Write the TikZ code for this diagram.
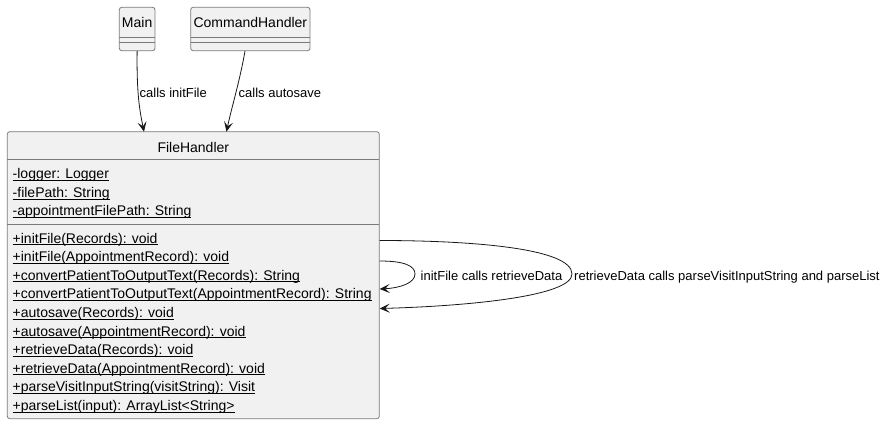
\documentclass[tikz,border=0pt]{standalone}
\usepackage{fontspec}
\setmainfont{Liberation Sans}
\usetikzlibrary{arrows.meta}
\definecolor{umlfill}{HTML}{F1F1F1}
\definecolor{umlborder}{HTML}{7A7A7A}
\definecolor{umlline}{HTML}{181818}
\newcommand{\staticmember}[1]{\setbox0=\hbox{#1}\rlap{\rule[-1.8pt]{\wd0}{0.6pt}}\box0}

\begin{document}
\begin{tikzpicture}[x=1pt,y=-1pt,
  classbox/.style={draw=umlborder, fill=umlfill, line width=0.8pt, rounded corners=2.5pt, inner sep=0pt},
  sepline/.style={draw=umlborder, line width=0.8pt},
  classname/.style={anchor=base, inner sep=0pt, font=\fontsize{14}{16}\selectfont},
  member/.style={anchor=base west, inner sep=0pt, font=\fontsize{14}{16}\selectfont},
  calllabel/.style={anchor=base west, inner sep=0pt, font=\fontsize{13}{15}\selectfont},
  callarrow/.style={draw=umlline, line width=0.8pt, -{Stealth[length=10pt,width=9pt,inset=4.5pt]}}]

\useasboundingbox (0,0) rectangle (891,423);

\node[classbox, minimum width=35.7pt, minimum height=43.4pt] (main) at (137.15,29) {};
\draw[sepline] (119.3,37.7) -- (155,37.7);
\draw[sepline] (119.3,42.7) -- (155,42.7);
\node[classname] (mainname) at (137.15,27.5) {Main};

\node[classbox, minimum width=119.3pt, minimum height=43.4pt] (cmd) at (250.35,29) {};
\draw[sepline] (190.7,37.7) -- (310,37.7);
\draw[sepline] (190.7,42.7) -- (310,42.7);
\node[classname] (cmdname) at (250.35,27.5) {CommandHandler};

\node[classbox, minimum width=372pt, minimum height=287pt] (fh) at (193.3,275.2) {};
\draw[sepline] (7.3,159.3) -- (379.3,159.3);
\draw[sepline] (7.3,224) -- (379.3,224);
\node[classname] (fhname) at (193.3,152) {FileHandler};

\node[member] (logger) at (12.5,178.8) {\staticmember{-logger: Logger}};
\node[member] (filepath) at (12.5,197.3) {\staticmember{-filePath: String}};
\node[member] (apptpath) at (12.5,215.8) {\staticmember{-appointmentFilePath: String}};

\node[member] (initrec) at (12.5,243) {\staticmember{+initFile(Records): void}};
\node[member] (initappt) at (12.5,261.6) {\staticmember{+initFile(AppointmentRecord): void}};
\node[member] (convrec) at (12.5,280.2) {\staticmember{+convertPatientToOutputText(Records): String}};
\node[member] (convappt) at (12.5,298.8) {\staticmember{+convertPatientToOutputText(AppointmentRecord): String}};
\node[member] (saverec) at (12.5,317.4) {\staticmember{+autosave(Records): void}};
\node[member] (saveappt) at (12.5,336) {\staticmember{+autosave(AppointmentRecord): void}};
\node[member] (retrrec) at (12.5,354.6) {\staticmember{+retrieveData(Records): void}};
\node[member] (retrappt) at (12.5,373.2) {\staticmember{+retrieveData(AppointmentRecord): void}};
\node[member] (parsevisit) at (12.5,391.8) {\staticmember{+parseVisitInputString(visitString): Visit}};
\node[member] (parselist) at (12.5,410.4) {\staticmember{+parseList(input): ArrayList<String>}};

\coordinate (fhtopmain) at (144,131.7);
\coordinate (fhtopcmd) at (226.5,131.7);
\draw[callarrow] (main.south) .. controls (136.5,95) and (140,112) .. (fhtopmain);
\node[calllabel] (lblinit) at (139.5,97.5) {calls initFile};
\draw[callarrow] ([xshift=-5.35pt]cmd.south) .. controls (240,80) and (231,110) .. (fhtopcmd);
\node[calllabel] (lblsave) at (238.5,97.5) {calls autosave};

\draw[callarrow] ([yshift=34.7pt]fh.east) .. controls (470,240.5) and (572,248) .. (572,274)
  .. controls (572,296) and (470,306) .. ([yshift=-33.3pt]fh.east);
\draw[callarrow] ([yshift=14.2pt]fh.east) .. controls (405,261) and (415,266) .. (415,274)
  .. controls (415,283) and (400,288) .. ([yshift=-13.8pt]fh.east);
\node[calllabel] (lblretr) at (420.5,280.5) {initFile calls retrieveData};
\node[calllabel] (lblparse) at (574,280.5) {retrieveData calls parseVisitInputString and parseList};
\end{tikzpicture}
\end{document}
